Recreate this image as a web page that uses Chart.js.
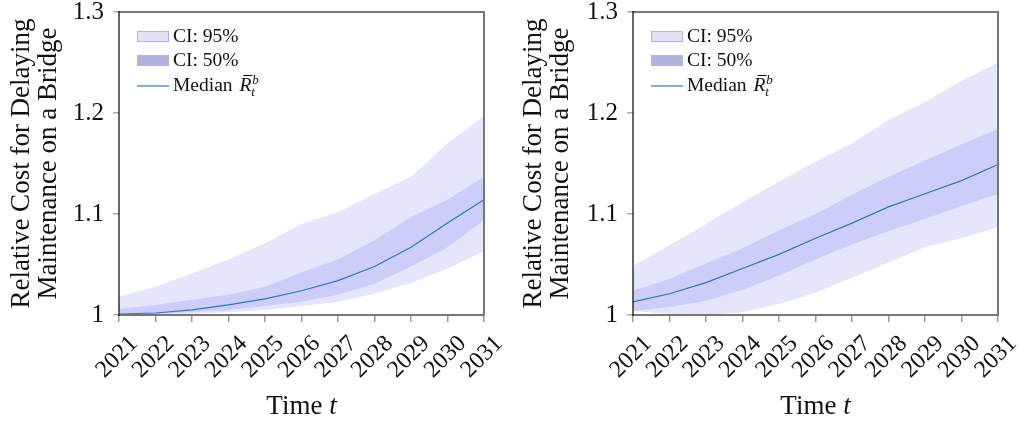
<!DOCTYPE html>
<html>
<head>
<meta charset="utf-8">
<script src="https://cdn.jsdelivr.net/npm/chart.js@4.4.1/dist/chart.umd.min.js"></script>
<style>
  html, body { margin: 0; padding: 0; background: #fff; }
  #wrap { position: relative; width: 1024px; height: 428px; }
  .panel { position: absolute; top: 0; width: 512px; height: 428px; }
</style>
</head>
<body>
<div id="wrap">
  <div class="panel" style="left:0"><canvas id="leftChart"></canvas></div>
  <div class="panel" style="left:512px"><canvas id="rightChart"></canvas></div>
</div>
<script>
const years = ['2021', '2022', '2023', '2024', '2025', '2026', '2027', '2028', '2029', '2030', '2031'];
const yTicks = [1, 1.1, 1.2, 1.3];

// left panel
const leftMedian = [1.001, 1.002, 1.005, 1.010, 1.016, 1.024, 1.034, 1.048, 1.067, 1.091, 1.114];
const leftHi95 = [1.018, 1.028, 1.041, 1.055, 1.071, 1.090, 1.102, 1.120, 1.137, 1.170, 1.197];
const leftLo95 = [1.000, 1.000, 1.001, 1.003, 1.005, 1.009, 1.013, 1.021, 1.032, 1.046, 1.063];
const leftHi50 = [1.006, 1.010, 1.015, 1.020, 1.028, 1.042, 1.055, 1.074, 1.097, 1.114, 1.137];
const leftLo50 = [1.001, 1.001, 1.003, 1.005, 1.009, 1.013, 1.020, 1.031, 1.048, 1.067, 1.094];

// right panel
const rightMedian = [1.013, 1.021, 1.032, 1.046, 1.060, 1.076, 1.091, 1.107, 1.120, 1.133, 1.149];
const rightHi95 = [1.049, 1.069, 1.090, 1.112, 1.132, 1.152, 1.170, 1.193, 1.211, 1.232, 1.250];
const rightLo95 = [1.004, 1.001, 1.000, 1.003, 1.011, 1.022, 1.037, 1.052, 1.067, 1.076, 1.087];
const rightHi50 = [1.024, 1.036, 1.051, 1.066, 1.084, 1.100, 1.119, 1.137, 1.153, 1.169, 1.184];
const rightLo50 = [1.004, 1.008, 1.014, 1.025, 1.039, 1.055, 1.070, 1.083, 1.095, 1.108, 1.120];

const band95 = '#e5e5fb';
const band50 = '#cdcdf9';
const medianColor = '#2a7ab9';
const serif = '"Liberation Serif", "DejaVu Serif", serif';

// frame, legend inside the plot and the x title with italic t
const decorations = {
  id: 'decorations',
  afterDatasetsDraw(chart) {
    const { ctx, chartArea: a } = chart;
    ctx.save();
    ctx.lineWidth = 2;
    ctx.strokeStyle = '#777';
    ctx.beginPath();
    ctx.moveTo(a.left, a.top);
    ctx.lineTo(a.right, a.top);
    ctx.lineTo(a.right, a.bottom);
    ctx.lineTo(a.left, a.bottom);
    ctx.stroke();
    ctx.lineWidth = 1.2;
    ctx.strokeStyle = '#000';
    ctx.beginPath();
    ctx.moveTo(a.left, a.top - 1);
    ctx.lineTo(a.left, a.bottom + 1);
    ctx.stroke();

    // legend
    const lx = a.left + 18;
    ctx.fillStyle = '#e3e3f3';
    ctx.fillRect(lx, a.top + 19, 32, 11);
    ctx.strokeStyle = '#b3b3dd';
    ctx.lineWidth = 1;
    ctx.strokeRect(lx + 0.5, a.top + 19.5, 31, 10);
    ctx.fillStyle = '#b3b3db';
    ctx.fillRect(lx, a.top + 43, 32, 11);
    ctx.strokeStyle = medianColor;
    ctx.lineWidth = 1.2;
    ctx.beginPath();
    ctx.moveTo(lx, a.top + 74);
    ctx.lineTo(lx + 32, a.top + 74);
    ctx.stroke();

    ctx.fillStyle = '#111';
    ctx.textBaseline = 'alphabetic';
    ctx.textAlign = 'left';
    ctx.font = '19.5px ' + serif;
    const tx = lx + 36;
    ctx.fillText('CI: 95%', tx, a.top + 30);
    ctx.fillText('CI: 50%', tx, a.top + 54);
    ctx.fillText('Median', tx, a.top + 79);
    let rx = tx + ctx.measureText('Median ').width + 2;
    ctx.font = 'italic 19.5px ' + serif;
    ctx.fillText('R', rx, a.top + 79);
    const rw = ctx.measureText('R').width;
    ctx.strokeStyle = '#111';
    ctx.lineWidth = 1;
    ctx.beginPath();
    ctx.moveTo(rx + 4, a.top + 63.5);
    ctx.lineTo(rx + rw + 1, a.top + 63.5);
    ctx.stroke();
    ctx.font = 'italic 13px ' + serif;
    ctx.fillText('b', rx + rw + 1, a.top + 72);
    ctx.fillText('t', rx + rw, a.top + 84);

    // x title
    ctx.font = '27px ' + serif;
    const w1 = ctx.measureText('Time ').width;
    ctx.font = 'italic 27px ' + serif;
    const w2 = ctx.measureText('t').width;
    const sx = (a.left + a.right) / 2 - (w1 + w2) / 2;
    ctx.font = '27px ' + serif;
    ctx.fillText('Time ', sx, 414);
    ctx.font = 'italic 27px ' + serif;
    ctx.fillText('t', sx + w1, 414);
    ctx.restore();
  }
};

function makeChart(id, med, lo95, hi95, lo50, hi50, axisWidth, padRight) {
  const ctx = document.getElementById(id);
  return new Chart(ctx, {
    type: 'line',
    data: {
      labels: years,
      datasets: [
        { label: 'CI: 95%', data: hi95, fill: '+1', backgroundColor: band95, borderWidth: 0, pointRadius: 0, order: 2 },
        { label: 'lo95', data: lo95, fill: false, borderWidth: 0, pointRadius: 0, order: 2 },
        { label: 'CI: 50%', data: hi50, fill: '+1', backgroundColor: band50, borderWidth: 0, pointRadius: 0, order: 1 },
        { label: 'lo50', data: lo50, fill: false, borderWidth: 0, pointRadius: 0, order: 1 },
        { label: 'Median', data: med, fill: false, borderColor: medianColor, borderWidth: 1.2, pointRadius: 0, order: 0 }
      ]
    },
    options: {
      responsive: true,
      maintainAspectRatio: false,
      animation: false,
      layout: { padding: { top: 12, right: padRight, bottom: 0, left: 0 } },
      plugins: { legend: { display: false }, tooltip: { enabled: false } },
      scales: {
        x: {
          offset: false,
          border: { display: false },
          grid: { drawOnChartArea: false, drawTicks: true, tickLength: 7, color: '#999', lineWidth: 1.5 },
          ticks: {
            autoSkip: false, minRotation: 45, maxRotation: 45, padding: 8, labelOffset: 15,
            color: '#111', font: { family: serif, size: 24 }
          },
          afterFit: s => { s.height = 113; s.paddingLeft = 0; s.paddingRight = 0; }
        },
        y: {
          min: 1, max: 1.3,
          border: { display: false },
          grid: { drawOnChartArea: false, drawTicks: true, tickLength: 6, color: '#aaa', lineWidth: 1.5 },
          afterBuildTicks: s => { s.ticks = yTicks.map(v => ({ value: v })); },
          ticks: {
            padding: 9, color: '#111', font: { family: serif, size: 25 },
            callback: v => (v === 1 ? '1' : v.toFixed(1))
          },
          title: {
            display: true,
            text: ['Relative Cost for Delaying', 'Maintenance on a Bridge'],
            color: '#111',
            font: { family: serif, size: 27, lineHeight: 0.98 },
            padding: { top: 9, bottom: 0 }
          },
          afterFit: s => { s.width = axisWidth; s.paddingTop = 0; s.paddingBottom = 0; }
        }
      }
    },
    plugins: [decorations]
  });
}

makeChart('leftChart', leftMedian, leftLo95, leftHi95, leftLo50, leftHi50, 119, 28);
makeChart('rightChart', rightMedian, rightLo95, rightHi95, rightLo50, rightHi50, 121, 26);
</script>
</body>
</html>
